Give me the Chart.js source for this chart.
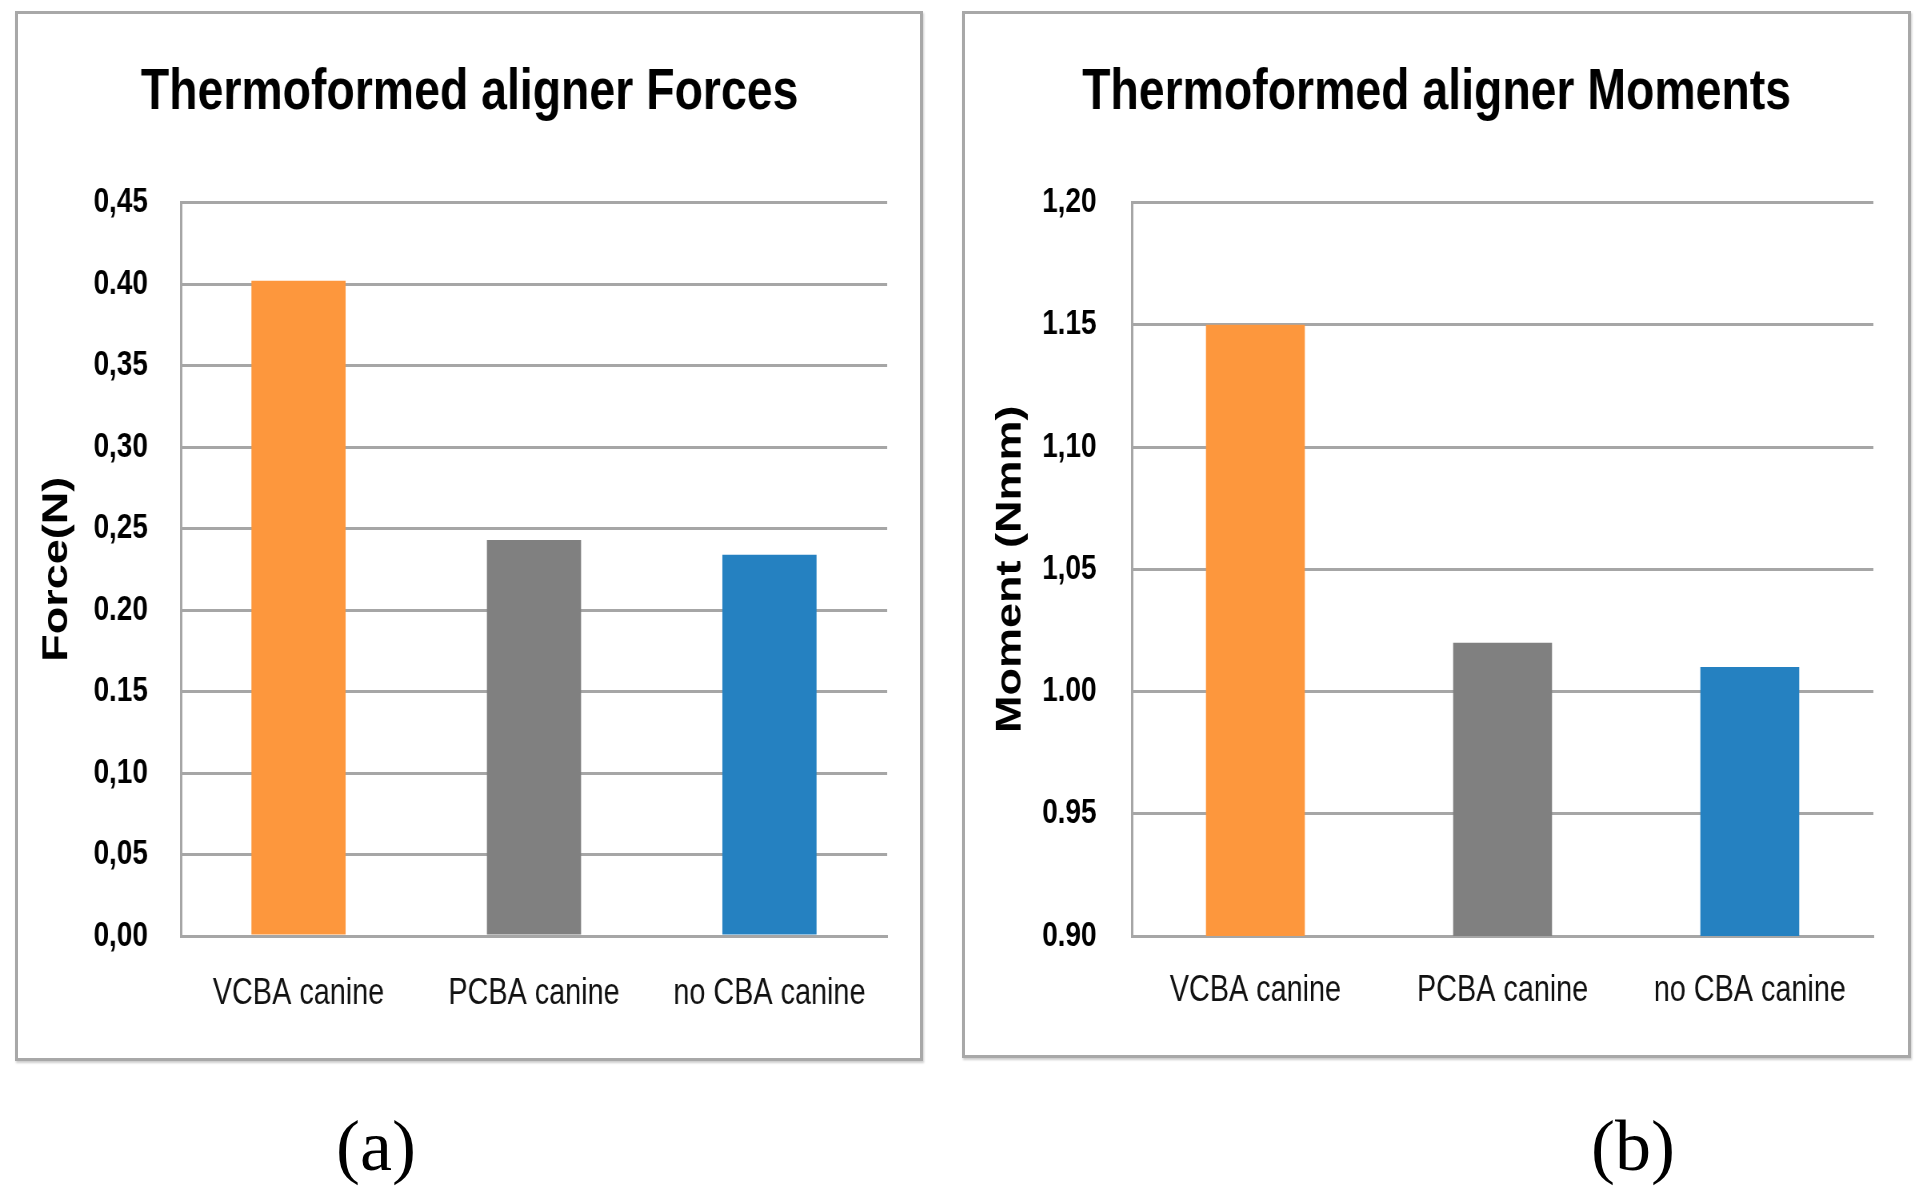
<!DOCTYPE html>
<html>
<head>
<meta charset="utf-8">
<script src="https://cdn.jsdelivr.net/npm/chart.js@4.4.1/dist/chart.umd.min.js"></script>
<style>
  body { margin: 0; background: #fff; width: 1924px; height: 1197px; position: relative; overflow: hidden; }
  /* the source figure is horizontally squeezed, so the canvases are too */
  canvas { position: absolute; transform-origin: 0 0; transform: scaleX(0.8); }
  .panel { position: absolute; box-sizing: border-box; border: 3px solid #a8a8a8; box-shadow: 1px 2px 2px rgba(0,0,0,0.2); }
  .tag { position: absolute; font-family: 'Liberation Serif', 'Times New Roman', serif; font-size: 72px; line-height: 72px; width: 200px; text-align: center; color: #000; }
</style>
</head>
<body>
<canvas id="forceChart" width="1134" height="1048" style="left:16px; top:12px;"></canvas>
<canvas id="momentChart" width="1184" height="1045" style="left:963px; top:12px;"></canvas>
<div class="panel" style="left:15px; top:11px; width:908px; height:1050px;"></div>
<div class="panel" style="left:962px; top:11px; width:949px; height:1047px;"></div>
<div class="tag" style="left:276px; top:1110px;">(a)</div>
<div class="tag" style="left:1533px; top:1110px;">(b)</div>

<script>
// Data
const categories = ['VCBA canine', 'PCBA canine', 'no CBA canine'];
const barColors = ['#fd973d', '#808080', '#2581c1'];

const forceValues = [0.402, 0.243, 0.234];
const forceTickLabels = ['0,00', '0,05', '0,10', '0.15', '0.20', '0,25', '0,30', '0,35', '0.40', '0,45'];

const momentValues = [1.15, 1.02, 1.01];
const momentTickLabels = ['0.90', '0.95', '1.00', '1,05', '1,10', '1.15', '1,20'];

const sans = "'Liberation Sans', Arial, sans-serif";
const gridGray = '#a6a6a6';

// Builds one of the two bar charts
function makeChart(id, cfg) {
  const ctx = document.getElementById(id).getContext('2d');
  return new Chart(ctx, {
    type: 'bar',
    data: {
      labels: categories,
      datasets: [{
        data: cfg.values,
        backgroundColor: barColors,
        borderWidth: 0,
        barPercentage: 0.4,
        categoryPercentage: 1.0
      }]
    },
    options: {
      responsive: false,
      devicePixelRatio: 1,
      animation: false,
      plugins: {
        legend: { display: false },
        tooltip: { enabled: false },
        title: {
          display: true,
          text: cfg.title,
          color: '#000',
          font: { family: sans, size: 58, weight: 'bold' },
          padding: { top: 46, bottom: 75 }
        }
      },
      scales: {
        x: {
          grid: { display: false, drawTicks: false },
          border: { display: true, color: gridGray, width: 3 },
          ticks: {
            color: '#111',
            font: { family: sans, size: 36 },
            padding: cfg.xPad,
            maxRotation: 0
          },
          afterFit: (scale) => { scale.height = cfg.xHeight; }
        },
        y: {
          min: cfg.min,
          max: cfg.max,
          grid: { color: gridGray, lineWidth: 3, drawTicks: false },
          border: { display: true, color: gridGray, width: 3 },
          ticks: {
            stepSize: 0.05,
            color: '#000',
            padding: cfg.yPad,
            font: { family: sans, size: 35, weight: 'bold' },
            callback: (value, index) => cfg.tickLabels[index]
          },
          title: {
            display: true,
            text: cfg.yTitle,
            color: '#000',
            font: { family: sans, size: 45, weight: 'bold' },
            padding: { top: cfg.yTitlePad, bottom: 0 }
          },
          afterFit: (scale) => { scale.width = cfg.yWidth; }
        },
        // empty right-hand axis, only keeps a margin so the title stays centred on the panel
        spacer: {
          type: 'linear',
          position: 'right',
          grid: { display: false, drawTicks: false },
          border: { display: false },
          ticks: { display: false },
          afterFit: (scale) => { scale.width = cfg.padRight; }
        }
      }
    }
  });
}

makeChart('forceChart', {
  title: 'Thermoformed aligner Forces',
  yTitle: 'Force(N)',
  values: forceValues,
  tickLabels: forceTickLabels,
  min: 0, max: 0.45,
  padRight: 45, xHeight: 124, xPad: 36,
  yWidth: 206, yPad: 41, yTitlePad: 25
});

makeChart('momentChart', {
  title: 'Thermoformed aligner Moments',
  yTitle: 'Moment (Nmm)',
  values: momentValues,
  tickLabels: momentTickLabels,
  min: 0.9, max: 1.2,
  padRight: 46, xHeight: 121, xPad: 33,
  yWidth: 211, yPad: 44, yTitlePad: 33
});
</script>
</body>
</html>
